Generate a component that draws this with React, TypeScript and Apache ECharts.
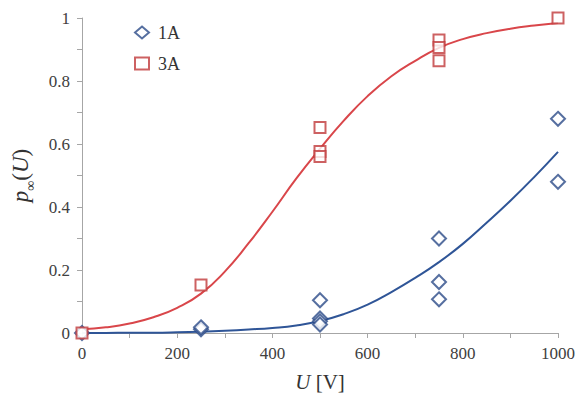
import React, { useEffect, useRef } from "react";
import * as echarts from "echarts";

// Fitted curves
const fitU = [0, 50, 100, 150, 200, 250, 300, 350, 400, 450, 500, 550, 600, 650, 700, 750, 800, 850, 900, 950, 1000];
const fit1A = [0, 0, 0.001, 0.001, 0.002, 0.004, 0.007, 0.011, 0.016, 0.024, 0.038, 0.06, 0.09, 0.13, 0.175, 0.225, 0.283, 0.35, 0.42, 0.495, 0.575];
const fit3A = [0.012, 0.018, 0.03, 0.05, 0.08, 0.125, 0.195, 0.285, 0.385, 0.49, 0.585, 0.674, 0.752, 0.815, 0.864, 0.905, 0.933, 0.952, 0.966, 0.976, 0.984];

// Measured points
const obs1A_U = [0, 250, 250, 500, 500, 500, 500, 750, 750, 750, 1000, 1000];
const obs1A_p = [0, 0.012, 0.018, 0.104, 0.046, 0.037, 0.027, 0.3, 0.162, 0.107, 0.68, 0.48];
const obs3A_U = [0, 250, 500, 500, 500, 750, 750, 750, 1000];
const obs3A_p = [0, 0.152, 0.652, 0.576, 0.56, 0.93, 0.906, 0.864, 1.0];

const BLUE_LINE = "#2f5597";
const BLUE_MARK = "#2c4b88";
const RED_LINE = "#d9464a";
const RED_MARK = "#c0393b";
const FONT = "'Liberation Serif', 'Times New Roman', serif";

export default function App() {
  const ref = useRef<HTMLDivElement>(null);
  useEffect(() => {
    if (!ref.current) return;
    const chart = echarts.init(ref.current, undefined, { renderer: "svg" });
    const zip = (a: number[], b: number[]) => a.map((v, i) => [v, b[i]]);
    chart.setOption({
      animation: false,
      backgroundColor: "#ffffff",
      grid: { left: 82, right: 24, top: 18, bottom: 68, containLabel: false },
      legend: {
        data: ["1A", "3A"],
        orient: "vertical",
        left: 129,
        top: 18,
        itemWidth: 14,
        itemHeight: 12,
        itemGap: 12,
        textStyle: { fontFamily: FONT, fontSize: 18, lineHeight: 19, color: "#333", padding: [0, 0, 0, 4] },
      },
      xAxis: {
        type: "value",
        min: 0,
        max: 1000,
        interval: 100,
        splitLine: { show: false },
        axisLine: { lineStyle: { color: "#a6a6a6", width: 1 } },
        axisTick: { length: 5, lineStyle: { color: "#a6a6a6" } },
        axisLabel: {
          margin: 12,
          fontFamily: FONT,
          fontSize: 17,
          color: "#404040",
          formatter: (v: number) => (Math.round(v) % 200 === 0 ? String(Math.round(v)) : ""),
        },
        name: "{u|U} {r|[V]}",
        nameLocation: "middle",
        nameGap: 38,
        nameTextStyle: {
          fontFamily: FONT,
          fontSize: 21,
          color: "#333",
          rich: {
            u: { fontFamily: FONT, fontSize: 21, fontStyle: "italic", color: "#333" },
            r: { fontFamily: FONT, fontSize: 21, color: "#333" },
          },
        },
      },
      yAxis: {
        type: "value",
        min: 0,
        max: 1,
        interval: 0.1,
        splitLine: { show: false },
        axisLine: { show: true, lineStyle: { color: "#a6a6a6", width: 1 } },
        axisTick: { show: true, length: 5, lineStyle: { color: "#a6a6a6" } },
        axisLabel: {
          margin: 12,
          fontFamily: FONT,
          fontSize: 17,
          color: "#404040",
          formatter: (v: number) => {
            const k = Math.round(v * 10);
            return k % 2 === 0 ? String(k / 10) : "";
          },
        },
        name: "{p|p}{s|∞}{r|(}{p|U}{r|)}",
        nameLocation: "middle",
        nameRotate: 90,
        nameGap: 48,
        nameTextStyle: {
          fontFamily: FONT,
          fontSize: 23,
          color: "#333",
          rich: {
            p: { fontFamily: FONT, fontSize: 23, fontStyle: "italic", color: "#333" },
            s: { fontFamily: FONT, fontSize: 14, color: "#333", verticalAlign: "bottom", lineHeight: 14, padding: [0, 0, -6, 0] },
            r: { fontFamily: FONT, fontSize: 23, color: "#333" },
          },
        },
      },
      series: [
        {
          name: "1A fit",
          type: "line",
          data: zip(fitU, fit1A),
          smooth: true,
          showSymbol: false,
          symbol: "none",
          lineStyle: { color: BLUE_LINE, width: 2 },
          z: 2,
        },
        {
          name: "3A fit",
          type: "line",
          data: zip(fitU, fit3A),
          smooth: true,
          showSymbol: false,
          symbol: "none",
          lineStyle: { color: RED_LINE, width: 2 },
          z: 2,
        },
        {
          name: "1A",
          type: "scatter",
          data: zip(obs1A_U, obs1A_p),
          symbol: "emptyDiamond",
          symbolSize: 14,
          itemStyle: { color: BLUE_MARK, borderColor: BLUE_MARK, borderWidth: 2 },
          z: 4,
        },
        {
          name: "3A",
          type: "scatter",
          data: zip(obs3A_U, obs3A_p),
          symbol: "emptyRect",
          symbolSize: 11,
          itemStyle: { color: RED_MARK, borderColor: RED_MARK, borderWidth: 2 },
          z: 5,
        },
      ],
    });
    return () => chart.dispose();
  }, []);
  return (
    <div
      ref={ref}
      style={{ position: "fixed", left: 0, top: 0, width: 582, height: 401, background: "#fff" }}
    />
  );
}
